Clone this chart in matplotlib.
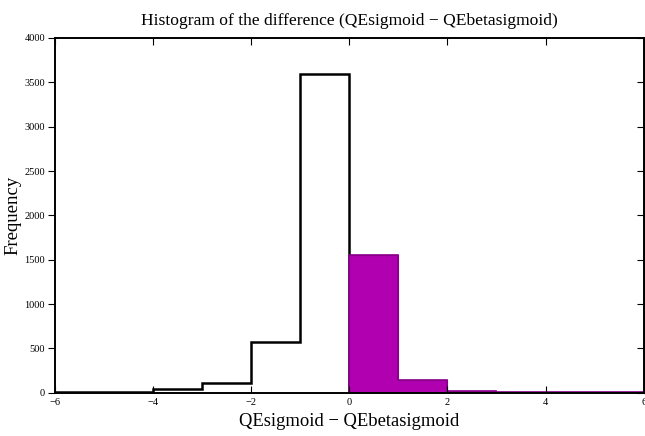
import numpy as np
import matplotlib
matplotlib.use("Agg")
import matplotlib.pyplot as plt

plt.rcParams['font.family'] = ['Liberation Serif', 'DejaVu Serif']

# bin edges and counts
neg_edges = [-6, -5, -4, -3, -2, -1, 0]
neg_counts = [5, 8, 40, 116, 572, 3592]
pos_edges = [0, 1, 2, 3, 4, 5, 6]
pos_counts = [1552, 150, 26, 12, 8, 6]

fig = plt.figure(figsize=(6.45, 4.36), dpi=100)
ax = fig.add_axes([0.085, 0.099, 0.913, 0.814])

# negative side: outline only
ax.stairs(neg_counts, neg_edges, color='black', linewidth=1.8, baseline=0)

# positive side: filled magenta bars
ax.stairs(pos_counts, pos_edges, fill=True, facecolor='#b000b0',
          edgecolor='#8a008a', linewidth=0.8)
ax.stairs(pos_counts, pos_edges, color='#8a008a', linewidth=1.2)

ax.set_xlim(-6, 6)
ax.set_ylim(0, 4000)
ax.set_xticks(np.arange(-6, 7, 2))
ax.set_yticks(np.arange(0, 4001, 500))

ax.tick_params(axis='x', direction='in', top=True, labelsize=7.5, length=5, width=0.8, pad=4)
ax.tick_params(axis='y', direction='out', labelsize=7.5, length=5, width=0.8, pad=2)
# right side inward ticks
sec = ax.secondary_yaxis('right')
sec.set_yticks(np.arange(0, 4001, 500))
sec.tick_params(direction='in', length=5, width=0.8, labelright=False)

for s in ax.spines.values():
    s.set_linewidth(1.4)

ax.set_title('Histogram of the difference (QEsigmoid \u2212 QEbetasigmoid)', fontsize=12.6, pad=9)
ax.set_xlabel('QEsigmoid \u2212 QEbetasigmoid', fontsize=13.4, labelpad=4)
ax.set_ylabel('Frequency', fontsize=13.5, labelpad=2)

fig.savefig('out.png', dpi=100)
